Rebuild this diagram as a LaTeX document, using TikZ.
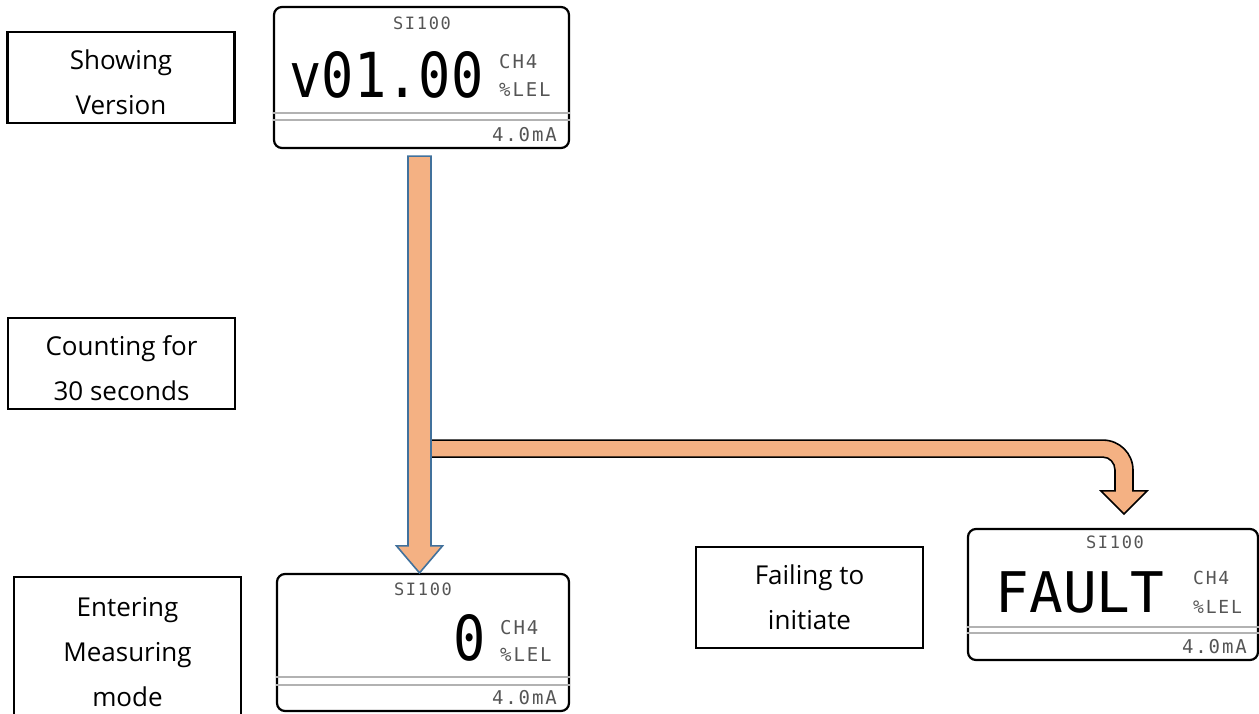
\documentclass[tikz,border=0pt]{standalone}
\usepackage{fontspec}
\usepackage{tikz}
\usetikzlibrary{calc}
\setmainfont{Open Sans}
\newfontfamily\lcdsmall[LetterSpace=10]{DejaVu Sans Mono}
\newfontfamily\lcdbig[FakeStretch=0.865]{DejaVu Sans Mono}
\newfontfamily\lcdplain{DejaVu Sans Mono}
\definecolor{arroworange}{RGB}{244,177,131}
\definecolor{arrowblue}{RGB}{65,113,156}
\definecolor{lcdgray}{RGB}{85,85,85}

\begin{document}
\begin{tikzpicture}
            [
                x=1pt, y=-1pt,
                caption/.style={draw, line width=2.5pt, minimum width=227pt, minimum height=91pt,
                    inner sep=0pt, align=center, font=\fontsize{26}{45}\selectfont},
                lcd/.style={draw, line width=2.2pt, rounded corners=8pt, minimum width=295pt,
                    minimum height=141pt, inner sep=0pt},
                lcdtitle/.style={inner sep=0pt, text=lcdgray, font=\lcdsmall\fontsize{17}{17}\selectfont},
                lcdunit/.style={inner sep=0pt, anchor=west, text=lcdgray, font=\lcdsmall\fontsize{19}{19}\selectfont},
                lcdvalue/.style={inner sep=0pt, anchor=base, font=\lcdbig\fontsize{62}{62}\selectfont},
                sepline/.style={draw=gray!60, line width=1.2pt},
                flow/.style={fill=arroworange, line width=1.6pt, line join=miter}
            ]
            \useasboundingbox (0,0) rectangle (1259,713);

            \node [caption, text height=73pt, text depth=0pt] (showing) at (121,77.5) {Showing\\Version};
            \node [caption, text height=73pt, text depth=0pt] (counting) at (121.5,363.5) {Counting for\\30 seconds};
            \node [caption, minimum height=150pt] (entering) at (127.5,652) {Entering\\Measuring\\mode};
            \node [caption, minimum height=101pt] (failing) at (809.5,597.5) {Failing to\\initiate};

            \node [lcd] (ver) at (421.5,77.5) {};
            \node [lcdtitle] (ver-title) at (422,23) {SI100};
            \node [lcdvalue] (ver-value) at (386.5,97) {v01.00};
            \node [lcdunit] (ver-gas) at (499,62) {CH4};
            \node [lcdunit] (ver-unit) at (499,90) {\%LEL};
            \node [lcdunit, anchor=east] (ver-out) at (557,135) {4.0mA};
            \draw [sepline] (ver.west |- 0,113) -- (ver.east |- 0,113);
            \draw [sepline] (ver.west |- 0,120) -- (ver.east |- 0,120);

            \node [lcd, minimum width=292pt, minimum height=137pt] (meas) at (423,642.5) {};
            \node [lcdtitle] (meas-title) at (423,589) {SI100};
            \node [lcdvalue] (meas-value) at (469.5,660) {0};
            \node [lcdunit] (meas-gas) at (500,628) {CH4};
            \node [lcdunit] (meas-unit) at (500,655) {\%LEL};
            \node [lcdunit, anchor=east] (meas-out) at (557,698) {4.0mA};
            \draw [sepline] (meas.west |- 0,677) -- (meas.east |- 0,677);
            \draw [sepline] (meas.west |- 0,685) -- (meas.east |- 0,685);

            \node [lcd, minimum width=290pt, minimum height=131pt] (fault) at (1113,594.5) {};
            \node [lcdtitle] (fault-title) at (1115,542) {SI100};
            \node [lcdvalue, font=\lcdplain\fontsize{56}{56}\selectfont] (fault-value) at (1080,612) {FAULT};
            \node [lcdunit, font=\lcdsmall\fontsize{18}{18}\selectfont] (fault-gas) at (1193,578) {CH4};
            \node [lcdunit, font=\lcdsmall\fontsize{18}{18}\selectfont] (fault-unit) at (1193,607) {\%LEL};
            \node [lcdunit, anchor=east] (fault-out) at (1247,647) {4.0mA};
            \draw [sepline] (fault.west |- 0,627) -- (fault.east |- 0,627);
            \draw [sepline] (fault.west |- 0,633) -- (fault.east |- 0,633);

            \coordinate (vtop) at ($(ver.south)+(-2,7)$);
            \coordinate (vtip) at ($(meas.north)+(-3.5,0)$);
            \coordinate (fork) at ($(vtop)+(11.5,292.5)$);
            \coordinate (ftip) at ($(fault.north)+(11,-14)$);

            \filldraw [flow, draw=black] ($(fork)+(0,-8.5)$) -- ($(fork -| ftip)+(-21,-8.5)$)
                .. controls ($(fork -| ftip)+(-4.4,-8.5)$) and ($(fork -| ftip)+(9,4.9)$) .. ($(fork -| ftip)+(9,21.5)$)
                -- ($(ftip)+(9,-23)$) -- ($(ftip)+(23,-23)$) -- (ftip) -- ($(ftip)+(-23,-23)$) -- ($(ftip)+(-9,-23)$)
                -- ($(fork -| ftip)+(-9,21.5)$)
                .. controls ($(fork -| ftip)+(-9,14.3)$) and ($(fork -| ftip)+(-14.4,8.5)$) .. ($(fork -| ftip)+(-21,8.5)$)
                -- ($(fork)+(0,8.5)$);

            \filldraw [flow, draw=arrowblue] ($(vtop)+(-11.5,0)$) -- ($(vtop)+(11.5,0)$) -- ($(vtip)+(11.5,-27)$)
                -- ($(vtip)+(23,-27)$) -- (vtip) -- ($(vtip)+(-23,-27)$) -- ($(vtip)+(-11.5,-27)$) -- cycle;
        \end{tikzpicture}
\end{document}
